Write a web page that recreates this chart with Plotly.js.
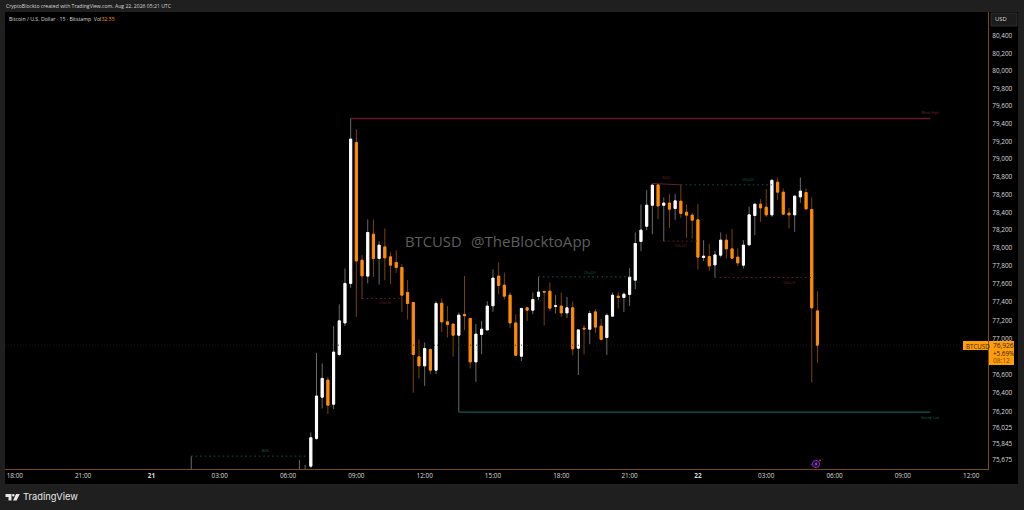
<!DOCTYPE html>
<html><head><meta charset="utf-8">
<script src="https://cdn.plot.ly/plotly-3.0.1.min.js"></script>
<style>html,body{margin:0;padding:0;background:#1f1f1f;overflow:hidden}#c{width:1024px;height:510px}</style>
</head><body><div id="c"></div>
<script>
// Hours since Aug 21 00:00 UTC
const hours=[1.75,6.5,6.75,7,7.25,7.5,7.75,8,8.25,8.5,8.75,9,9.25,9.5,9.75,10,10.25,10.5,10.75,11,11.25,11.5,11.75,12,12.25,12.5,12.75,13,13.25,13.5,13.75,14,14.25,14.5,14.75,15,15.25,15.5,15.75,16,16.25,16.5,16.75,17,17.25,17.5,17.75,18,18.25,18.5,18.75,19,19.25,19.5,19.75,20,20.25,20.5,20.75,21,21.25,21.5,21.75,22,22.25,22.5,22.75,23,23.25,23.5,23.75,24,24.25,24.5,24.75,25,25.25,25.5,25.75,26,26.25,26.5,26.75,27,27.25,27.5,27.75,28,28.25,28.5,28.75,29,29.25];
const opens=[75540,75540,75500,75608,75908,76357,76543,76280,76824,77171,77608,79187,77866,77689,78156,77885,78014,77903,77841,77785,77508,77397,76798,76699,76879,76652,77389,77183,77158,77036,77265,77221,76743,77044,77094,77360,77689,77589,77478,77171,76805,77338,77312,77464,77519,77522,77354,77357,77282,77338,76893,77113,77102,77293,77136,77011,77246,77467,77453,77486,77644,78075,78245,78480,78709,78480,78504,78443,78525,78402,78369,78316,77896,77907,77814,77922,78089,77992,77900,77811,78037,78365,78492,78458,78372,78739,78627,78391,78372,78574,78623,78432,77304];
const highs=[75716,75673,75620,75973,76842,76726,76579,77136,77376,77774,79459,79337,77922,78321,78321,78078,78220,77952,77978,77822,77644,77400,76993,76956,76890,77411,77441,77357,77163,77286,77689,77224,77158,77194,77411,77763,77841,77729,77508,77267,77334,77340,77508,77681,77522,77619,77478,77504,77459,77408,77096,77147,77304,77320,77216,77275,77508,77508,77508,77777,78175,78489,78649,78724,78716,78567,78604,78604,78709,78489,78391,78492,78089,78045,77967,78175,78156,78212,77997,78089,78461,78495,78548,78661,78773,78792,78668,78450,78585,78792,78668,78567,77522];
const lows=[75520,75500,75480,75587,75889,76234,76172,76227,76805,77136,77559,77238,77441,77608,77681,77596,77644,77600,77725,77293,77209,76404,76562,76480,76609,76609,77073,77011,76798,76194,77091,76671,76524,76828,77094,77293,77489,77430,77117,76816,76751,77194,77267,77422,77144,77304,77275,77238,77224,76816,76598,76824,76937,77059,76981,76820,77246,77331,77290,77360,77544,77967,78201,78156,78324,78078,78226,78313,78339,78115,78108,77763,77855,77747,77674,77896,77885,77883,77799,77774,78033,78145,78294,78350,78350,78537,78375,78220,78182,78507,78436,76517,76733];
const closes=[75560,75560,75520,75915,76369,76562,76270,76850,77194,77608,79225,77858,77692,78175,77885,78033,77892,77811,77785,77478,77386,76824,76699,76890,76652,77386,77183,77155,77036,77257,77250,76743,77048,77102,77357,77667,77585,77467,77171,76816,77331,77312,77430,77512,77512,77334,77360,77282,77338,76886,77094,77105,77275,77125,76989,77254,77478,77453,77489,77678,78052,78201,78480,78705,78472,78504,78436,78529,78388,78369,78313,77900,77911,77803,77925,78089,77992,77889,77836,78033,78372,78492,78450,78372,78759,78627,78380,78372,78582,78638,78439,77338,76926];

const weakHighX=[8.75,34.2], weakHighY=[79459,79459];
const strongLowX=[13.5,34.2], strongLowY=[76194,76194];
const bosX=[1.75,6.75], bosY=[75716,75716];
const choch1X=[9.25,11], choch1Y=[77441,77441];
const choch2X=[17,21], choch2Y=[77681,77681];
const eqhX=[22,23.25], eqhY=[78724,78709];
const choch3X=[23.25,27.25], choch3Y=[78709,78709];
const choch4X=[22.5,24], choch4Y=[78078,78078];
const choch5X=[24.75,29], choch5Y=[77674,77674];
const priceLineX=[-6.43,35.6], priceLineY=[76926,76926];

const RED='#6b1c2b', GREEN='#0f5a4c';
const greenLabelX=[5,19.25,26.2,34.2], greenLabelY=[75770,77725,78765,76130], greenLabelT=['BOS','CHoCH','CHoCH','Strong Low'];
const redLabelX=[10.25,23.25,22.6,28,34.2], redLabelY=[77385,78020,78780,77610,79520], redLabelT=['CHoCH','CHoCH','EQH','CHoCH','Weak High'];

const yTicks=[80400,80200,80000,79800,79600,79400,79200,79000,78800,78600,78400,78200,78000,77800,77600,77400,77200,77000,76600,76400,76200,76025,75845,75675];
const yTickText=['80,400','80,200','80,000','79,800','79,600','79,400','79,200','79,000','78,800','78,600','78,400','78,200','78,000','77,800','77,600','77,400','77,200','77,000','76,600','76,400','76,200','76,025','75,845','75,675'];
const xTicks=[-6,-3,0,3,6,9,12,15,18,21,24,27,30,33,36];
const xTickText=['18:00','21:00','<b>21</b>','03:00','06:00','09:00','12:00','15:00','18:00','21:00','<b>22</b>','03:00','06:00','09:00','12:00'];

const bodyHigh=opens.map((o,i)=>Math.max(o,closes[i]));
const bodyLow=opens.map((o,i)=>Math.min(o,closes[i]));

const W=1024,H=510,L=5,R=988,T=12,B=469;
const px=x=>(x-L)/(R-L), py=y=>(B-y)/(B-T);
const rect=(x0,y0,x1,y1,fill,line,layer)=>({type:'rect',xref:'paper',yref:'paper',x0:px(x0),x1:px(x1),y0:py(y0),y1:py(y1),fillcolor:fill,line:{width:line?0.7:0,color:line||fill},layer:layer||'above'});
const pth=(pts,fill)=>({type:'path',xref:'paper',yref:'paper',path:'M'+pts.map(p=>px(p[0])+','+py(p[1])).join(' L')+' Z',fillcolor:fill,line:{width:0},layer:'above'});
const circ=(cx,cy,r,fill,line)=>({type:'circle',xref:'paper',yref:'paper',x0:px(cx-r),x1:px(cx+r),y0:py(cy+r),y1:py(cy-r),fillcolor:fill,line:{width:line?1:0,color:line||fill},layer:'above'});
const txt=(x,y,t,size,color,anchor,extra)=>Object.assign({xref:'paper',yref:'paper',x:px(x),y:py(y),text:t,showarrow:false,xanchor:anchor||'left',yanchor:'middle',align:anchor||'left',borderpad:0,font:{family:'"Open Sans",sans-serif',size:size,color:color}},extra||{});

const DOT='1.5px,3px';
const lineTrace=(x,y,color,dash,width)=>({type:'scatter',mode:'lines',x:x,y:y,line:{color:color,dash:dash||'solid',width:width||1},hoverinfo:'skip',showlegend:false});
const ORANGE='#ff8c00', TAG='#ff9d0a';
const traces=[
 lineTrace(priceLineX,priceLineY,'#2a1d0a','1px,2px',0.8),
 lineTrace(weakHighX,weakHighY,'#641a28','solid',1.4),
 lineTrace(strongLowX,strongLowY,'#0f5f50','solid',1.4),
 lineTrace(bosX,bosY,GREEN,DOT,1),
 lineTrace(choch1X,choch1Y,RED,DOT,1),
 lineTrace(choch2X,choch2Y,GREEN,DOT,1),
 lineTrace(eqhX,eqhY,RED,'solid',1),
 lineTrace(choch3X,choch3Y,GREEN,DOT,1),
 lineTrace(choch4X,choch4Y,RED,DOT,1),
 lineTrace(choch5X,choch5Y,RED,DOT,1),
 {type:'scatter',mode:'text',x:greenLabelX,y:greenLabelY,text:greenLabelT,textposition:'middle center',textfont:{size:3.5,color:'#0f6a58',family:'Open Sans'},hoverinfo:'skip',showlegend:false},
 {type:'scatter',mode:'text',x:redLabelX,y:redLabelY,text:redLabelT,textposition:'middle center',textfont:{size:3.5,color:'#7a2030',family:'Open Sans'},hoverinfo:'skip',showlegend:false},
 {type:'candlestick',x:hours,open:opens,high:highs,low:lows,close:closes,whiskerwidth:0,
  increasing:{line:{color:'#6a6a6a',width:1},fillcolor:'#6a6a6a'},decreasing:{line:{color:'#7a4300',width:1},fillcolor:'#7a4300'},hoverinfo:'skip',showlegend:false},
 {type:'candlestick',x:hours,open:opens,high:bodyHigh,low:bodyLow,close:closes,whiskerwidth:0,
  increasing:{line:{color:'#ffffff',width:1},fillcolor:'#ffffff'},decreasing:{line:{color:ORANGE,width:1},fillcolor:ORANGE},hoverinfo:'skip',showlegend:false}
];

const shapes=[
 rect(5,12,1018,484,'#000000',null,'below'),
 rect(963,341,988,350,TAG),
 rect(989,341,1014,365,TAG),
 rect(991,13,1017,26,'#1c1c1c','#3a3a3a'),
 pth([[5.5,494],[11.5,494],[11.5,500.5],[8.5,500.5],[8.5,497],[5.5,497]],'#e8e8e8'),
 pth([[16,494],[19.8,494],[16.6,500.5],[13,500.5]],'#e8e8e8'),
 circ(13.3,495.3,1.3,'#e8e8e8'),
 circ(816,464,3.6,'rgba(60,20,100,0.5)','#7a2fb8'),
 pth([[816.6,461.5],[814.6,464.6],[816,464.6],[815.4,466.6],[817.6,463.4],[816.2,463.4]],'#a060e0'),
 circ(820,460.6,1,'#e02030'),
 circ(811.6,464.6,0.9,'#5a22a0')
];

const annotations=[
 txt(5,6,'CryptoBlockto created with TradingView.com, Aug 22, 2026 05:21 UTC',5.1,'#d8d8d8'),
 txt(8,18.5,'Bitcoin / U.S. Dollar · 15 · Bitstamp &nbsp;Vol<span style="color:#ff8c00">32.55</span>',5.2,'#d8d8d8'),
 txt(22,496.8,'TradingView',9.3,'#e8e8e8','left',{font:{family:'"Inter",sans-serif',size:9.3,color:'#e8e8e8'}}),
 txt(404,241,'BTCUSD',14.8,'#5e5e5e'),
 txt(470,241,'@TheBlocktoApp',15.1,'#5e5e5e'),
 txt(994,19.5,'USD',5.8,'#d8d8d8'),
 txt(965,346,'BTCUSD',6.2,'#3a2500'),
 txt(992,345.8,'76,926',6.6,'#2a1a00'),
 txt(992,353.2,'+5.69%',6.3,'#2a1a00'),
 txt(992,360.6,'08:12',6.6,'#7a4a00')
];

const tickFont={family:'"Open Sans",sans-serif',size:6.4,color:'#dadada'};
const layout={
 width:W,height:H,margin:{l:L,r:W-R,t:T,b:H-B,pad:0},
 paper_bgcolor:'#1f1f1f',plot_bgcolor:'#000000',showlegend:false,
 boxgap:0.47,boxmode:'overlay',
 xaxis:{type:'linear',range:[-6.43,36.74],showgrid:false,zeroline:false,rangeslider:{visible:false},
  tickmode:'array',tickvals:xTicks,ticktext:xTickText,tickfont:tickFont,
  ticks:'',ticklen:0,showline:true,linecolor:'#7d4c10',linewidth:1,fixedrange:true,automargin:false},
 yaxis:{type:'log',side:'right',range:[4.87839,4.90675],showgrid:false,zeroline:false,
  tickmode:'array',tickvals:yTicks,ticktext:yTickText,tickfont:tickFont,ticklabelstandoff:2,
  ticks:'',ticklen:0,showline:true,linecolor:'#7d4c10',linewidth:1,fixedrange:true,automargin:false},
 shapes:shapes,annotations:annotations
};
Plotly.newPlot('c',traces,layout,{displayModeBar:false,staticPlot:true,responsive:false});
</script></body></html>
